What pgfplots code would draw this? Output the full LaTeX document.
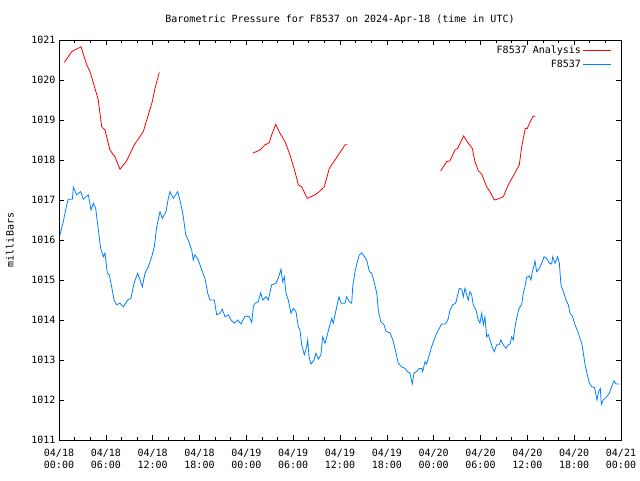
\documentclass[border=0pt]{standalone}
\usepackage{pgfplots}
\pgfplotsset{compat=1.18}
\usepackage{fontspec}
\setmainfont{DejaVu Sans Mono}
\definecolor{gred}{RGB}{255,0,0}
\definecolor{gblue}{RGB}{0,128,255}
\begin{document}
\begin{tikzpicture}
\useasboundingbox (-59pt,-40pt) rectangle (581pt,440pt);
\begin{axis}[
  scale only axis, width=562pt, height=400pt,
  xmin=0, xmax=72, ymin=1011, ymax=1021,
  xtick={0,6,...,72}, minor x tick num=2,
  xticklabels={04/18\\00:00,04/18\\06:00,04/18\\12:00,04/18\\18:00,04/19\\00:00,04/19\\06:00,04/19\\12:00,04/19\\18:00,04/20\\00:00,04/20\\06:00,04/20\\12:00,04/20\\18:00,04/21\\00:00},
  ytick={1011,1012,...,1021},
  yticklabel style={/pgf/number format/1000 sep={}},
  /pgf/number format/assume math mode=true,
  xticklabel style={align=center, font=\fontsize{10}{11.5}\selectfont, yshift=-6pt},
  tick align=inside, major tick length=5pt, minor tick length=3pt,
  tick style={black, line width=0.6pt},
  axis line style={line width=0.8pt},
  font=\fontsize{10}{12}\selectfont,
  title={Barometric Pressure for F8537 on 2024-Apr-18 (time in UTC)},
  title style={at={(0.5,1)}, anchor=south, yshift=6pt},
  ylabel={milliBars},
  ylabel style={at={(axis description cs:-0.0872,0.5)}, anchor=center},
  legend style={draw=none, fill=none, at={(rel axis cs:1,1)}, anchor=north east, xshift=-6pt, yshift=-2pt, row sep=1pt},
  legend cell align=right, legend plot pos=right,
  legend image code/.code={\draw[#1] (0pt,0pt) -- (28pt,0pt);},
  unbounded coords=jump,
]
\addplot[gred, line width=0.8pt] coordinates {
(0.68,1020.44) (1.63,1020.71) (2.82,1020.83) (3.55,1020.38) (3.97,1020.21) (4.61,1019.79) (5.03,1019.5) (5.47,1018.83) (5.89,1018.75) (6.53,1018.25) (7.17,1018.08) (7.81,1017.77) (8.67,1017.98) (9.65,1018.38) (10.8,1018.71) (11.44,1019.13) (11.95,1019.46) (12.3,1019.79) (12.85,1020.19)
(13,nan)
(24.81,1018.17) (25.75,1018.25) (26.39,1018.38) (26.94,1018.43) (27.25,1018.63) (27.76,1018.89) (28.31,1018.67) (28.95,1018.46) (29.59,1018.13) (30.23,1017.71) (30.66,1017.38) (31.09,1017.33) (31.81,1017.04) (32.8,1017.13) (33.35,1017.21) (33.99,1017.33) (34.63,1017.79) (35.49,1018.04) (36.22,1018.25) (36.64,1018.38) (36.93,1018.38)
(37,nan)
(48.9,1017.73) (49.67,1017.96) (50.09,1017.98) (50.73,1018.25) (51.07,1018.29) (51.84,1018.6) (52.43,1018.42) (52.95,1018.29) (53.29,1017.96) (53.72,1017.73) (54.15,1017.65) (54.79,1017.33) (55.21,1017.21) (55.77,1017.0) (56.15,1017.02) (56.92,1017.08) (57.56,1017.38) (58.42,1017.68) (58.97,1017.88) (59.28,1018.33) (59.74,1018.79) (59.99,1018.79) (60.68,1019.08) (61.02,1019.1)
};
\addlegendentry{F8537 Analysis}
\addplot[gblue, line width=0.8pt] coordinates {
(0.13,1016.13) (0.55,1016.46) (0.98,1016.88) (1.2,1017.02) (1.71,1017.02) (1.84,1017.32) (2.26,1017.13) (2.77,1017.21) (3.12,1017.02) (3.76,1017.13) (4.1,1016.75) (4.4,1016.92) (4.7,1016.79) (5.04,1016.25) (5.34,1015.79) (5.68,1015.58) (5.89,1015.67) (6.19,1015.17) (6.44,1015.13) (6.75,1014.83) (7.05,1014.5) (7.39,1014.38) (7.81,1014.42) (8.24,1014.33) (8.8,1014.5) (9.22,1014.54) (9.61,1014.92) (10.08,1015.17) (10.38,1015.0) (10.67,1014.83) (11.02,1015.17) (11.44,1015.33) (11.88,1015.58) (12.21,1015.83) (12.52,1016.33) (12.94,1016.71) (13.23,1016.54) (13.71,1016.71) (14.0,1017.04) (14.22,1017.21) (14.64,1017.04) (15.21,1017.21) (15.59,1016.92) (15.93,1016.58) (16.23,1016.13) (16.56,1016.0) (17.0,1015.75) (17.2,1015.5) (17.42,1015.63) (17.85,1015.5) (18.28,1015.25) (18.7,1015.04) (19.05,1014.67) (19.34,1014.5) (19.9,1014.5) (20.2,1014.13) (20.63,1014.17) (20.92,1014.27) (21.27,1014.08) (21.69,1014.13) (22.03,1014.0) (22.46,1013.92) (22.89,1014.0) (23.32,1013.9) (23.83,1014.1) (24.38,1014.08) (24.69,1013.94) (24.9,1014.33) (25.11,1014.42) (25.53,1014.46) (25.84,1014.68) (26.1,1014.5) (26.52,1014.58) (26.81,1014.5) (27.25,1014.88) (27.8,1014.92) (28.09,1015.04) (28.44,1015.27) (28.65,1014.96) (28.86,1015.08) (29.08,1014.67) (29.38,1014.5) (29.72,1014.17) (30.02,1014.29) (30.36,1014.21) (30.66,1013.83) (30.87,1013.75) (31.09,1013.38) (31.43,1013.13) (31.73,1013.33) (31.86,1013.5) (32.03,1013.08) (32.28,1012.9) (32.67,1013.0) (32.92,1013.17) (33.22,1013.02) (33.56,1013.13) (33.78,1013.58) (34.08,1013.42) (34.37,1013.63) (34.63,1013.82) (34.94,1014.04) (35.14,1013.92) (35.58,1014.33) (35.87,1014.58) (36.13,1014.42) (36.64,1014.42) (36.86,1014.58) (37.19,1014.46) (37.5,1014.42) (37.63,1014.83) (37.93,1015.21) (38.22,1015.46) (38.48,1015.63) (38.79,1015.68) (39.07,1015.6) (39.42,1015.5) (39.76,1015.21) (40.06,1015.17) (40.36,1014.96) (40.71,1014.67) (40.91,1014.25) (41.22,1013.96) (41.64,1013.88) (41.9,1013.71) (42.41,1013.68) (42.62,1013.58) (42.83,1013.46) (43.14,1013.21) (43.46,1012.92) (43.9,1012.83) (44.33,1012.79) (44.62,1012.71) (44.97,1012.67) (45.26,1012.4) (45.48,1012.68) (45.82,1012.71) (46.16,1012.79) (46.46,1012.79) (46.59,1012.71) (46.89,1012.96) (47.1,1012.9) (47.44,1013.13) (47.74,1013.33) (48.04,1013.5) (48.39,1013.67) (48.72,1013.79) (49.0,1013.9) (49.54,1013.9) (49.88,1014.04) (50.09,1014.25) (50.43,1014.38) (50.82,1014.42) (51.02,1014.58) (51.28,1014.79) (51.59,1014.77) (51.8,1014.58) (52.01,1014.79) (52.23,1014.63) (52.43,1014.5) (52.65,1014.71) (52.87,1014.63) (53.07,1014.38) (53.42,1014.25) (53.72,1014.0) (53.93,1013.92) (54.15,1014.17) (54.36,1013.88) (54.57,1014.08) (54.79,1013.58) (55.0,1013.63) (55.21,1013.5) (55.56,1013.29) (55.77,1013.21) (56.07,1013.38) (56.41,1013.38) (56.59,1013.5) (56.92,1013.38) (57.27,1013.29) (57.56,1013.38) (57.78,1013.4) (57.99,1013.58) (58.2,1013.5) (58.42,1013.83) (58.63,1014.04) (58.93,1014.29) (59.28,1014.38) (59.48,1014.67) (59.7,1014.83) (59.91,1015.07) (60.25,1015.1) (60.47,1015.0) (60.64,1015.21) (60.89,1015.38) (60.98,1015.48) (61.19,1015.21) (61.53,1015.29) (61.84,1015.42) (62.14,1015.58) (62.48,1015.54) (62.82,1015.42) (63.12,1015.4) (63.25,1015.58) (63.55,1015.42) (63.89,1015.58) (64.1,1015.42) (64.23,1015.08) (64.31,1014.88) (64.61,1014.71) (64.95,1014.5) (65.25,1014.38) (65.46,1014.17) (65.81,1014.08) (66.11,1013.88) (66.54,1013.67) (66.76,1013.54) (66.97,1013.42) (67.18,1013.17) (67.4,1012.88) (67.7,1012.62) (67.96,1012.42) (68.27,1012.33) (68.61,1012.31) (68.92,1012.0) (69.13,1012.21) (69.35,1012.29) (69.48,1011.89) (69.73,1012.0) (70.16,1012.08) (70.5,1012.17) (70.8,1012.33) (71.1,1012.48) (71.36,1012.4) (71.78,1012.4)
};
\addlegendentry{F8537}
\end{axis}
\end{tikzpicture}
\end{document}
